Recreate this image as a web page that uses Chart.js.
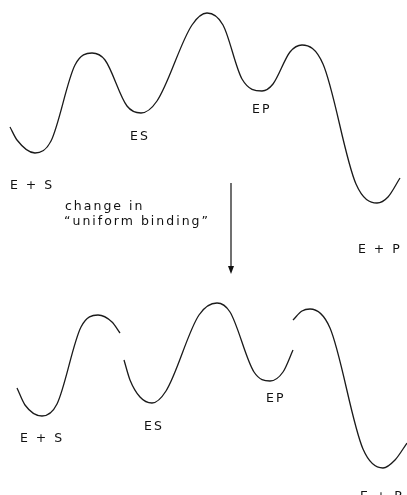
<!DOCTYPE html>
<html>
<head>
<meta charset="utf-8">
<script src="https://cdn.jsdelivr.net/npm/chart.js@4/dist/chart.umd.min.js"></script>
<style>
  html, body { margin: 0; padding: 0; background: #ffffff; }
  #wrap { width: 407px; height: 495px; position: relative; }
</style>
</head>
<body>
<div id="wrap"><canvas id="c" width="407" height="495"></canvas></div>
<script>
// Reaction coordinate (x) and free energy (y, drawn downward)
const topX = [10,17,35,51,75,92,105,127,141,157,192,207,223,242,262,273,290,302,323,356,377,388,400];
const topY = [127,140,153,141,65,53,60,106,113,101,25,13,25,79,91,84,52,45,64,184,203,197,178];

const bot1X = [17,25,42,57,81,98,112,120];
const bot1Y = [388,405,416,404,327,315,322,333];
const bot2X = [124,130,140,152,166,199,217,230,254,270,283,293];
const bot2Y = [360,380,397,403,391,315,303,312,372,381,372,350];
const bot3X = [293,302,310,330,363,383,395,407];
const bot3Y = [320,311,309,328,449,468,460,443];

// State labels
const labelText = ["E + S", "ES", "EP", "E + P", "E + S", "ES", "EP", "E + P", "change in", "\u201Cuniform binding\u201D"];
const labelX    = [10, 130, 252, 358, 20, 144, 266, 360, 65, 64];
const labelY    = [186, 137, 110, 250, 439, 427, 399, 497, 207, 222];

// Arrow (x, y start, y end)
const arrowX = 231;
const arrowY = [183, 274];

function pts(xs, ys) { return xs.map((x, i) => ({ x: x, y: ys[i] })); }

const lineStyle = {
  showLine: true,
  borderColor: '#1a1a1a',
  borderWidth: 1.3,
  pointRadius: 0,
  pointHoverRadius: 0,
  fill: false,
  cubicInterpolationMode: 'monotone',
  clip: false
};

const annotate = {
  id: 'annotate',
  afterDatasetsDraw(chart) {
    const ctx = chart.ctx;
    const xs = chart.scales.x, ys = chart.scales.y;
    ctx.save();
    ctx.fillStyle = '#111';
    ctx.font = '12.5px "DejaVu Sans", sans-serif';
    if ('letterSpacing' in ctx) ctx.letterSpacing = '2px';
    ctx.textAlign = 'left';
    ctx.textBaseline = 'middle';
    labelText.forEach((t, i) => {
      ctx.fillText(t, xs.getPixelForValue(labelX[i]), ys.getPixelForValue(labelY[i]));
    });
    // arrow
    const ax = xs.getPixelForValue(arrowX);
    const y0 = ys.getPixelForValue(arrowY[0]);
    const y1 = ys.getPixelForValue(arrowY[1]);
    ctx.strokeStyle = '#111';
    ctx.lineWidth = 1.2;
    ctx.beginPath();
    ctx.moveTo(ax, y0);
    ctx.lineTo(ax, y1 - 4);
    ctx.stroke();
    ctx.beginPath();
    ctx.moveTo(ax - 3, y1 - 8);
    ctx.lineTo(ax + 3, y1 - 8);
    ctx.lineTo(ax, y1);
    ctx.closePath();
    ctx.fill();
    ctx.restore();
  }
};

new Chart(document.getElementById('c'), {
  type: 'scatter',
  data: {
    datasets: [
      Object.assign({ data: pts(topX, topY) }, lineStyle),
      Object.assign({ data: pts(bot1X, bot1Y) }, lineStyle),
      Object.assign({ data: pts(bot2X, bot2Y) }, lineStyle),
      Object.assign({ data: pts(bot3X, bot3Y) }, lineStyle)
    ]
  },
  options: {
    responsive: false,
    animation: false,
    events: [],
    layout: { padding: 0 },
    plugins: { legend: { display: false }, tooltip: { enabled: false } },
    scales: {
      x: { type: 'linear', min: 0, max: 407, display: false },
      y: { type: 'linear', min: 0, max: 495, reverse: true, display: false }
    }
  },
  plugins: [annotate]
});
</script>
</body>
</html>
